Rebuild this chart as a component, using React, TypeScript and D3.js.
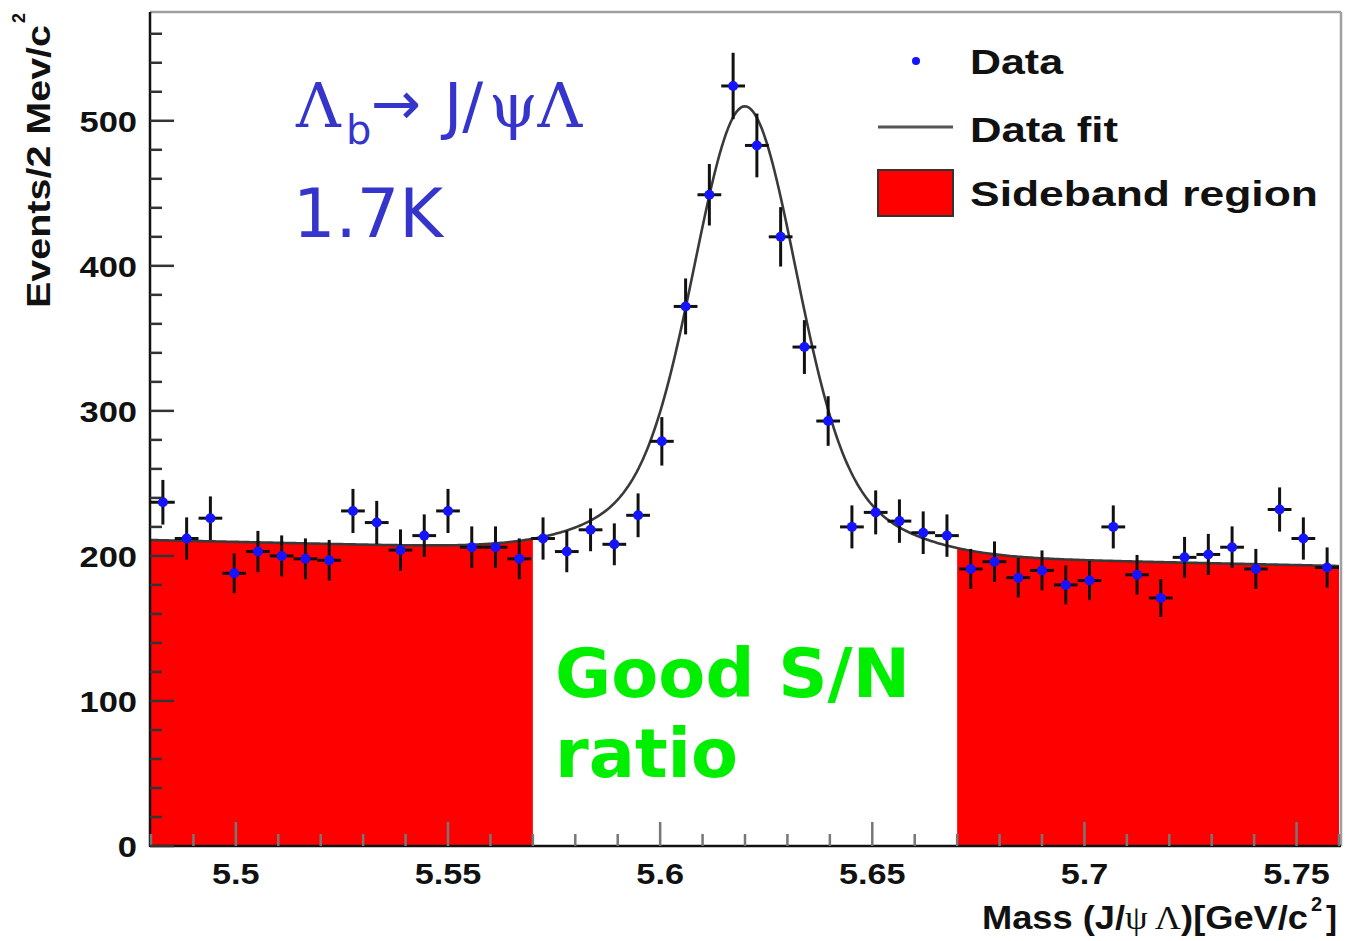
import React from 'react';
import * as d3 from 'd3';

const W = 1346;
const H = 941;

// Histogram bins (2 Mev/c^2 labelled, 50 bins over 5.48-5.76)
const binCenters = [
  5.4828, 5.4884, 5.494, 5.4996, 5.5052, 5.5108, 5.5164, 5.522, 5.5276, 5.5332,
  5.5388, 5.5444, 5.55, 5.5556, 5.5612, 5.5668, 5.5724, 5.578, 5.5836, 5.5892,
  5.5948, 5.6004, 5.606, 5.6116, 5.6172, 5.6228, 5.6284, 5.634, 5.6396, 5.6452,
  5.6508, 5.6564, 5.662, 5.6676, 5.6732, 5.6788, 5.6844, 5.69, 5.6956, 5.7012,
  5.7068, 5.7124, 5.718, 5.7236, 5.7292, 5.7348, 5.7404, 5.746, 5.7516, 5.7572,
];
const binHalfWidth = 0.0028;
const counts = [
  237, 212, 226, 188, 203, 200, 198, 197, 231, 223,
  204, 214, 231, 206, 206, 198, 212, 203, 218, 208,
  228, 279, 372, 449, 524, 483, 420, 344, 293, 220,
  230, 224, 216, 214, 191, 196, 185, 190, 180, 183,
  220, 187, 171, 199, 201, 206, 191, 232, 212, 192,
];

// Fit parameters: linear background + double gaussian
const fitMean = 5.62;
const bgParams = [202, -64]; // b0 at mean, slope
const coreGauss = [250, 0.0115]; // amplitude, sigma
const wideGauss = [58, 0.024];

const sidebands = [
  [5.48, 5.57],
  [5.67, 5.76],
];

const xMajorTicks = [5.5, 5.55, 5.6, 5.65, 5.7, 5.75];
const xMajorLabels = ['5.5', '5.55', '5.6', '5.65', '5.7', '5.75'];
const yMajorTicks = [0, 100, 200, 300, 400, 500];

const xDomain = [5.48, 5.76];
const yDomain = [0, 575];

function fitFn(m: number) {
  const d = m - fitMean;
  return (
    bgParams[0] + bgParams[1] * d +
    coreGauss[0] * Math.exp(-(d * d) / (2 * coreGauss[1] * coreGauss[1])) +
    wideGauss[0] * Math.exp(-(d * d) / (2 * wideGauss[1] * wideGauss[1]))
  );
}

export default function App() {
  const x = d3.scaleLinear().domain(xDomain).range([151, 1339]);
  const y = d3.scaleLinear().domain(yDomain).range([846, 12]);
  const left = 150, right = 1341, top = 12, bottom = 846;

  const sampleX = d3.range(xDomain[0], xDomain[1] + 1e-9, 0.0005);
  const line = d3.line<number>().x(m => x(m)).y(m => y(fitFn(m)));
  const area = d3.area<number>().x(m => x(m)).y0(y(0)).y1(m => y(fitFn(m)));

  const minorX = d3.range(5.48, 5.7601, 0.01).filter(v => !xMajorTicks.some(t => Math.abs(t - v) < 1e-6));
  const minorY = d3.range(0, 561, 20).filter(v => v % 100 !== 0);

  const tickFont = "'Liberation Sans', Arial, sans-serif";
  const blue = '#3535cc';

  return (
    <svg width={W} height={H} style={{ position: 'absolute', left: 0, top: 0, background: '#fff' }}>
      <rect x={0} y={0} width={W} height={H} fill="#fff" />
      {/* sideband fills */}
      {sidebands.map((sb, i) => {
        const pts = sampleX.filter(m => m >= sb[0] - 1e-9 && m <= sb[1] + 1e-9);
        return <path key={i} d={area(pts) || ''} fill="#ff0000" stroke="none" />;
      })}
      {/* frame */}
      <line x1={left} y1={top} x2={right} y2={top} stroke="#a0a0a0" strokeWidth={2.5} />
      <line x1={right} y1={top} x2={right} y2={bottom} stroke="#a0a0a0" strokeWidth={2.5} />
      {/* fit line */}
      <path d={line(sampleX) || ''} fill="none" stroke="#3a3a3a" strokeWidth={2.6} />
      {/* data */}
      {binCenters.map((m, i) => {
        const c = counts[i];
        const e = Math.sqrt(c);
        return (
          <g key={i}>
            <line x1={x(m)} x2={x(m)} y1={y(c - e)} y2={y(c + e)} stroke="#111" strokeWidth={3} />
            <line x1={x(m - binHalfWidth)} x2={x(m + binHalfWidth)} y1={y(c)} y2={y(c)} stroke="#111" strokeWidth={3} />
            <circle cx={x(m)} cy={y(c)} r={5} fill="#1414ff" />
          </g>
        );
      })}
      {/* axes */}
      <line x1={left} y1={top} x2={left} y2={bottom + 1} stroke="#111" strokeWidth={2.5} />
      <line x1={left} y1={bottom} x2={right} y2={bottom} stroke="#111" strokeWidth={2.5} />
      {xMajorTicks.map((t, i) => (
        <g key={'xm' + i}>
          <line x1={x(t)} x2={x(t)} y1={bottom} y2={bottom - 24} stroke="#777" strokeWidth={2.5} />
          <text transform={`translate(${x(t)},884) scale(1.18,1)`} textAnchor="middle" fontFamily={tickFont} fontWeight="bold" fontSize={29} fill="#111">{xMajorLabels[i]}</text>
        </g>
      ))}
      {minorX.map((t, i) => (
        <line key={'xn' + i} x1={x(t)} x2={x(t)} y1={bottom} y2={bottom - 12} stroke="#777" strokeWidth={2.5} />
      ))}
      {yMajorTicks.map((t, i) => (
        <g key={'ym' + i}>
          <line x1={left} x2={left + 24} y1={y(t)} y2={y(t)} stroke="#333" strokeWidth={2.5} />
          <text transform={`translate(137,${y(t) + 11}) scale(1.15,1)`} textAnchor="end" fontFamily={tickFont} fontWeight="bold" fontSize={30} fill="#111">{String(t)}</text>
        </g>
      ))}
      {minorY.map((t, i) => (
        <line key={'yn' + i} x1={left} x2={left + 12} y1={y(t)} y2={y(t)} stroke="#333" strokeWidth={2.5} />
      ))}
      {/* axis titles */}
      <g transform="translate(50,308) rotate(-90)">
        <text x={0} y={0} fontFamily={tickFont} fontWeight="bold" fontSize={33} textLength={283} lengthAdjust="spacingAndGlyphs" fill="#111">Events/2 Mev/c</text>
        <text x={285} y={-25} fontFamily={tickFont} fontWeight="bold" fontSize={18} fill="#111">2</text>
      </g>
      <text x={982} y={929} fontFamily={tickFont} fontWeight="bold" fontSize={33} textLength={326} lengthAdjust="spacingAndGlyphs" fill="#111">
        Mass (J/<tspan fontFamily="'Liberation Serif', serif" fontWeight="normal">ψ Λ</tspan>)[GeV/c
      </text>
      <text x={1311} y={911} fontFamily={tickFont} fontWeight="bold" fontSize={20} fill="#111">2</text>
      <text x={1326} y={929} fontFamily={tickFont} fontWeight="bold" fontSize={33} fill="#111">]</text>
      {/* legend */}
      <circle cx={916} cy={61} r={4} fill="#1414ff" />
      <text x={970} y={74} fontFamily={tickFont} fontWeight="bold" fontSize={35} textLength={93} lengthAdjust="spacingAndGlyphs" fill="#111">Data</text>
      <line x1={878} x2={953} y1={127} y2={127} stroke="#555" strokeWidth={3} />
      <text x={970} y={142} fontFamily={tickFont} fontWeight="bold" fontSize={35} textLength={148} lengthAdjust="spacingAndGlyphs" fill="#111">Data fit</text>
      <rect x={878} y={170} width={75} height={46} fill="#ff0000" stroke="#333" strokeWidth={2} />
      <text x={970} y={206} fontFamily={tickFont} fontWeight="bold" fontSize={35} textLength={348} lengthAdjust="spacingAndGlyphs" fill="#111">Sideband region</text>
      {/* blue annotation */}
      <text x={296} y={127} fontFamily="'DejaVu Serif', serif" fontSize={62} fill={blue}>Λ</text>
      <text x={346} y={144} fontFamily="'DejaVu Sans', sans-serif" fontSize={40} fill={blue}>b</text>
      <text x={371} y={124} fontFamily="'DejaVu Sans', sans-serif" fontSize={60} fill={blue}>→</text>
      <text x={444} y={127} fontFamily="'DejaVu Sans', sans-serif" fontSize={62} fill={blue}>J/</text>
      <text x={489} y={127} fontFamily="'DejaVu Serif', serif" fontSize={62} fill={blue}>ψΛ</text>
      <text x={293} y={237} fontFamily="'DejaVu Sans', sans-serif" fontSize={68} textLength={150} lengthAdjust="spacingAndGlyphs" fill={blue}>1.7K</text>
      {/* green annotation */}
      <text x={555} y={697} fontFamily="'DejaVu Sans', sans-serif" fontWeight="bold" fontSize={68} textLength={355} lengthAdjust="spacingAndGlyphs" fill="#00ee00">Good S/N</text>
      <text x={555} y={777} fontFamily="'DejaVu Sans', sans-serif" fontWeight="bold" fontSize={68} textLength={183} lengthAdjust="spacingAndGlyphs" fill="#00ee00">ratio</text>
    </svg>
  );
}
